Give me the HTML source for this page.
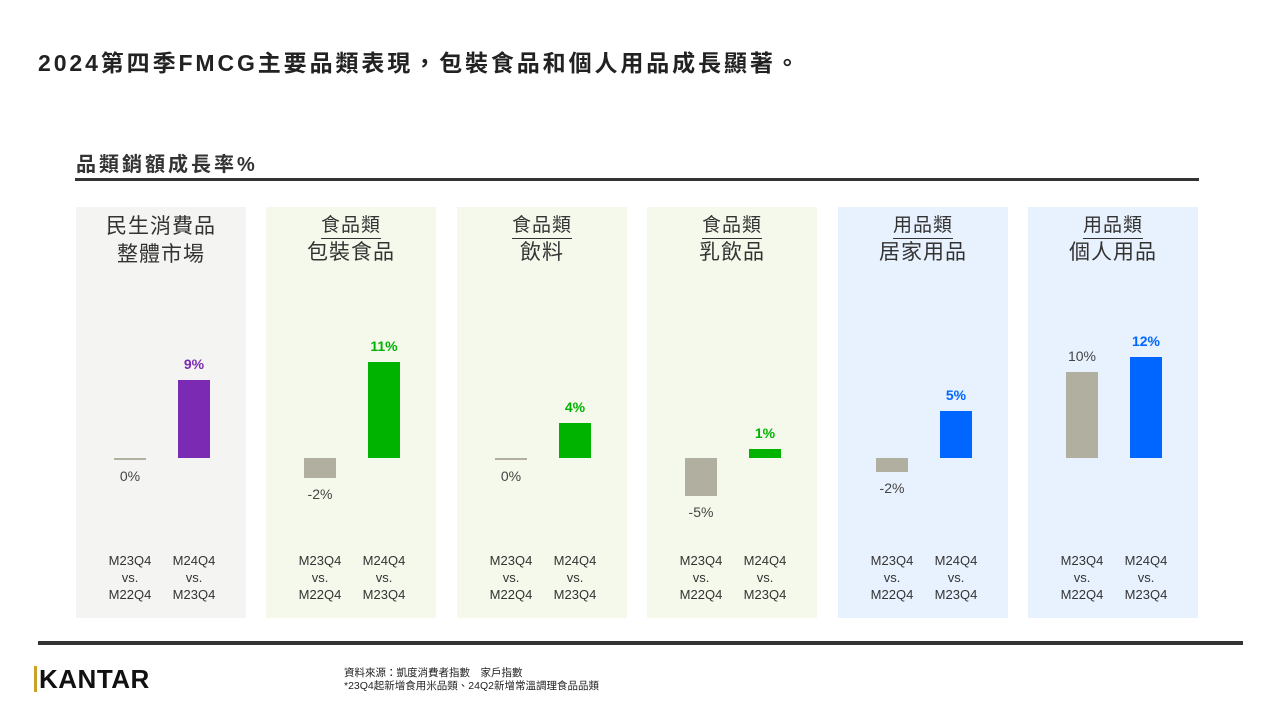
<!DOCTYPE html>
<html><head><meta charset="utf-8"><style>
body{margin:0;width:1280px;height:720px;background:#fff;position:relative;font-family:"Liberation Sans","Noto Sans CJK TC",sans-serif;overflow:hidden;color:#222}
.abs{position:absolute}
.panel{position:absolute;top:207px;width:170px;height:411px}
.hd{position:absolute;left:0;width:170px;text-align:center;font-size:21px;color:#333;line-height:28px;letter-spacing:1px}
.cat{display:inline-block;border-bottom:1.5px solid #333;line-height:24px;font-size:19px}
.xl{position:absolute;width:64px;text-align:center;font-size:13px;line-height:17px;color:#333;top:345px}
.val{position:absolute;width:64px;text-align:center;font-size:14px}
</style></head><body>
<div class="abs" style="left:38px;top:44px;font-size:23px;letter-spacing:2.9px;font-weight:bold;color:#222">2024第四季FMCG主要品類表現，包裝食品和個人用品成長顯著。</div>
<div class="abs" style="left:76px;top:148px;font-size:20px;letter-spacing:3px;font-weight:bold;color:#333">品類銷額成長率%</div>
<div class="abs" style="left:75px;top:178px;width:1124px;height:3px;background:#333"></div>
<div id="chart"></div>
<div class="abs" style="left:38px;top:641px;width:1205px;height:4px;background:#333"></div>
<div class="abs" style="left:34px;top:666px;font-size:26px;font-weight:bold;color:#111;letter-spacing:0.5px;border-left:3px solid #c9a227;padding-left:2px;line-height:26px">KANTAR</div>
<div class="abs" style="left:344px;top:667px;font-size:10.5px;line-height:13px;color:#222">資料來源：凱度消費者指數　家戶指數<br>*23Q4起新增食用米品類、24Q2新增常溫調理食品品類</div>
<script>
const panelNames=["民生消費品|整體市場","食品類|包裝食品","食品類|飲料","食品類|乳飲品","用品類|居家用品","用品類|個人用品"];
const prevValues=[0,-2.3,0,-4.4,-1.6,10];
const currValues=[9,11.1,4,1,5.4,11.7];
const prevLabels=["0%","-2%","0%","-5%","-2%","10%"];
const currLabels=["9%","11%","4%","1%","5%","12%"];
const panelLefts=[76,266,457,647,838,1028];
const bgs=["#F4F4F3","#F5F9EB","#F5F9EB","#F5F9EB","#E8F2FE","#E8F2FE"];
const cols=["#7B2AB4","#00B300","#00B300","#00B300","#0066FF","#0066FF"];
const zeroY=251, pxPer=8.65;
const y=v=>zeroY-v*pxPer;
const chart=document.getElementById('chart');
panelNames.forEach((n,i)=>{
 const p=document.createElement('div');p.className='panel';
 
 
 p.style.left=panelLefts[i]+'px';p.style.background=bgs[i];
 const [a,b]=n.split('|');
 const h=document.createElement('div');h.className='hd';
 
 
 if(i===0){h.style.top='6px';h.innerHTML=a+'<br>'+b;}
 else{h.style.top='4px';h.innerHTML='<span class="cat">'+a+'</span><br>'+b;}
 p.appendChild(h);
 [[prevValues[i],prevLabels[i],38,'#B0AFA0',false],[currValues[i],currLabels[i],102,cols[i],true]].forEach(([v,l,x,c,bold])=>{
  const bar=document.createElement('div');bar.className='abs';
  
  
  const top=Math.min(y(v),zeroY),hh=Math.max(Math.abs(v)*pxPer,1.5);
  bar.style.cssText+=`left:${x}px;top:${top}px;width:32px;height:${hh}px;background:${c}`;
  p.appendChild(bar);
  const t=document.createElement('div');t.className='val';
  
  
  t.textContent=l;t.style.left=(x-16)+'px';
  t.style.color=bold?c:'#444';if(bold)t.style.fontWeight='bold';
  t.style.top=(v>=0&&v!==0?y(v)-24:top+hh+8)+'px';
  p.appendChild(t);
 });
 [['M23Q4','M22Q4',38],['M24Q4','M23Q4',102]].forEach(([q1,q2,x])=>{
  const xl=document.createElement('div');xl.className='xl';
  
  
  xl.style.left=(x-16)+'px';xl.innerHTML=q1+'<br>vs.<br>'+q2;p.appendChild(xl);
 });
 chart.appendChild(p);
});
</script>
</body></html>
